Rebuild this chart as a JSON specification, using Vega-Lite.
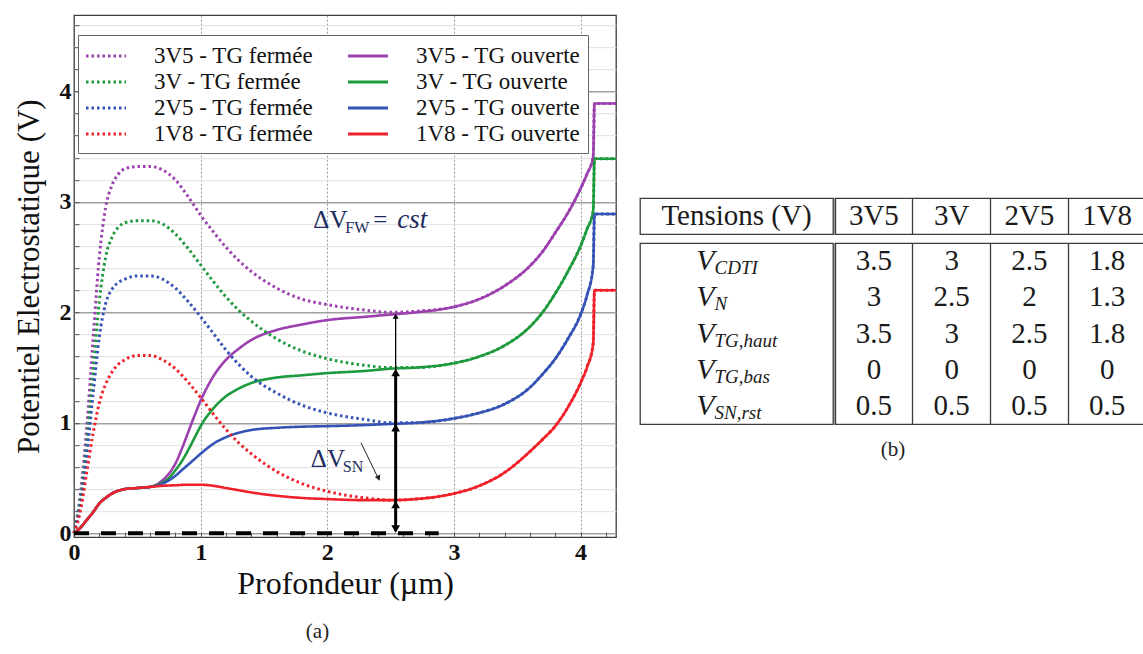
{
"$schema": "https://vega.github.io/schema/vega-lite/v6.json",
"padding": {"left": 12, "top": 12, "right": 0, "bottom": 0},
"background": "white",
"spacing": 16,
"center": true,
"resolve": {"scale": {"x": "independent", "y": "independent"}},
"datasets": {
"curves": [
{"s":"3V5 - TG fermée","x":0,"y":0},{"s":"3V5 - TG fermée","x":0.05,"y":0.35},{"s":"3V5 - TG fermée","x":0.1,"y":0.95},{"s":"3V5 - TG fermée","x":0.15,"y":1.75},{"s":"3V5 - TG fermée","x":0.2,"y":2.5},{"s":"3V5 - TG fermée","x":0.25,"y":2.95},{"s":"3V5 - TG fermée","x":0.3,"y":3.15},{"s":"3V5 - TG fermée","x":0.35,"y":3.25},{"s":"3V5 - TG fermée","x":0.4,"y":3.3},{"s":"3V5 - TG fermée","x":0.5,"y":3.32},{"s":"3V5 - TG fermée","x":0.6,"y":3.32},{"s":"3V5 - TG fermée","x":0.7,"y":3.29},{"s":"3V5 - TG fermée","x":0.8,"y":3.2},{"s":"3V5 - TG fermée","x":0.9,"y":3.05},{"s":"3V5 - TG fermée","x":1,"y":2.88},{"s":"3V5 - TG fermée","x":1.1,"y":2.73},{"s":"3V5 - TG fermée","x":1.2,"y":2.59},{"s":"3V5 - TG fermée","x":1.3,"y":2.47},{"s":"3V5 - TG fermée","x":1.4,"y":2.37},{"s":"3V5 - TG fermée","x":1.6,"y":2.22},{"s":"3V5 - TG fermée","x":1.8,"y":2.12},{"s":"3V5 - TG fermée","x":2,"y":2.07},{"s":"3V5 - TG fermée","x":2.3,"y":2.02},{"s":"3V5 - TG fermée","x":2.5,"y":2},{"s":"3V5 - TG fermée","x":2.7,"y":2.01},{"s":"3V5 - TG fermée","x":3,"y":2.05},{"s":"3V5 - TG fermée","x":3.2,"y":2.12},{"s":"3V5 - TG fermée","x":3.4,"y":2.24},{"s":"3V5 - TG fermée","x":3.6,"y":2.42},{"s":"3V5 - TG fermée","x":3.7,"y":2.55},{"s":"3V5 - TG fermée","x":3.8,"y":2.72},{"s":"3V5 - TG fermée","x":3.9,"y":2.9},{"s":"3V5 - TG fermée","x":4,"y":3.12},{"s":"3V5 - TG fermée","x":4.05,"y":3.25},{"s":"3V5 - TG fermée","x":4.1,"y":3.41},{"s":"3V5 - TG fermée","x":4.11,"y":3.89},{"s":"3V5 - TG fermée","x":4.28,"y":3.89},
{"s":"3V - TG fermée","x":0,"y":0},{"s":"3V - TG fermée","x":0.05,"y":0.3},{"s":"3V - TG fermée","x":0.1,"y":0.8},{"s":"3V - TG fermée","x":0.15,"y":1.45},{"s":"3V - TG fermée","x":0.2,"y":2.1},{"s":"3V - TG fermée","x":0.25,"y":2.5},{"s":"3V - TG fermée","x":0.3,"y":2.68},{"s":"3V - TG fermée","x":0.35,"y":2.77},{"s":"3V - TG fermée","x":0.4,"y":2.81},{"s":"3V - TG fermée","x":0.5,"y":2.83},{"s":"3V - TG fermée","x":0.6,"y":2.83},{"s":"3V - TG fermée","x":0.7,"y":2.8},{"s":"3V - TG fermée","x":0.8,"y":2.71},{"s":"3V - TG fermée","x":0.9,"y":2.58},{"s":"3V - TG fermée","x":1,"y":2.43},{"s":"3V - TG fermée","x":1.1,"y":2.28},{"s":"3V - TG fermée","x":1.2,"y":2.14},{"s":"3V - TG fermée","x":1.3,"y":2.02},{"s":"3V - TG fermée","x":1.4,"y":1.92},{"s":"3V - TG fermée","x":1.6,"y":1.76},{"s":"3V - TG fermée","x":1.8,"y":1.65},{"s":"3V - TG fermée","x":2,"y":1.58},{"s":"3V - TG fermée","x":2.3,"y":1.52},{"s":"3V - TG fermée","x":2.5,"y":1.5},{"s":"3V - TG fermée","x":2.7,"y":1.5},{"s":"3V - TG fermée","x":3,"y":1.54},{"s":"3V - TG fermée","x":3.2,"y":1.6},{"s":"3V - TG fermée","x":3.4,"y":1.7},{"s":"3V - TG fermée","x":3.6,"y":1.87},{"s":"3V - TG fermée","x":3.7,"y":2},{"s":"3V - TG fermée","x":3.8,"y":2.17},{"s":"3V - TG fermée","x":3.9,"y":2.37},{"s":"3V - TG fermée","x":4,"y":2.6},{"s":"3V - TG fermée","x":4.05,"y":2.75},{"s":"3V - TG fermée","x":4.1,"y":2.92},{"s":"3V - TG fermée","x":4.11,"y":3.39},{"s":"3V - TG fermée","x":4.28,"y":3.39},
{"s":"2V5 - TG fermée","x":0,"y":0},{"s":"2V5 - TG fermée","x":0.05,"y":0.25},{"s":"2V5 - TG fermée","x":0.1,"y":0.7},{"s":"2V5 - TG fermée","x":0.15,"y":1.25},{"s":"2V5 - TG fermée","x":0.2,"y":1.78},{"s":"2V5 - TG fermée","x":0.25,"y":2.08},{"s":"2V5 - TG fermée","x":0.3,"y":2.21},{"s":"2V5 - TG fermée","x":0.35,"y":2.27},{"s":"2V5 - TG fermée","x":0.4,"y":2.3},{"s":"2V5 - TG fermée","x":0.5,"y":2.33},{"s":"2V5 - TG fermée","x":0.6,"y":2.33},{"s":"2V5 - TG fermée","x":0.7,"y":2.3},{"s":"2V5 - TG fermée","x":0.8,"y":2.22},{"s":"2V5 - TG fermée","x":0.9,"y":2.1},{"s":"2V5 - TG fermée","x":1,"y":1.96},{"s":"2V5 - TG fermée","x":1.1,"y":1.81},{"s":"2V5 - TG fermée","x":1.2,"y":1.66},{"s":"2V5 - TG fermée","x":1.3,"y":1.53},{"s":"2V5 - TG fermée","x":1.4,"y":1.42},{"s":"2V5 - TG fermée","x":1.6,"y":1.27},{"s":"2V5 - TG fermée","x":1.8,"y":1.16},{"s":"2V5 - TG fermée","x":2,"y":1.09},{"s":"2V5 - TG fermée","x":2.3,"y":1.03},{"s":"2V5 - TG fermée","x":2.5,"y":1},{"s":"2V5 - TG fermée","x":2.7,"y":1},{"s":"2V5 - TG fermée","x":3,"y":1.04},{"s":"2V5 - TG fermée","x":3.2,"y":1.09},{"s":"2V5 - TG fermée","x":3.4,"y":1.17},{"s":"2V5 - TG fermée","x":3.6,"y":1.32},{"s":"2V5 - TG fermée","x":3.7,"y":1.44},{"s":"2V5 - TG fermée","x":3.8,"y":1.58},{"s":"2V5 - TG fermée","x":3.9,"y":1.76},{"s":"2V5 - TG fermée","x":4,"y":1.98},{"s":"2V5 - TG fermée","x":4.05,"y":2.15},{"s":"2V5 - TG fermée","x":4.1,"y":2.42},{"s":"2V5 - TG fermée","x":4.11,"y":2.89},{"s":"2V5 - TG fermée","x":4.28,"y":2.89},
{"s":"1V8 - TG fermée","x":0,"y":0},{"s":"1V8 - TG fermée","x":0.05,"y":0.2},{"s":"1V8 - TG fermée","x":0.1,"y":0.55},{"s":"1V8 - TG fermée","x":0.15,"y":0.9},{"s":"1V8 - TG fermée","x":0.2,"y":1.18},{"s":"1V8 - TG fermée","x":0.25,"y":1.35},{"s":"1V8 - TG fermée","x":0.3,"y":1.46},{"s":"1V8 - TG fermée","x":0.35,"y":1.53},{"s":"1V8 - TG fermée","x":0.4,"y":1.57},{"s":"1V8 - TG fermée","x":0.5,"y":1.61},{"s":"1V8 - TG fermée","x":0.6,"y":1.61},{"s":"1V8 - TG fermée","x":0.7,"y":1.57},{"s":"1V8 - TG fermée","x":0.8,"y":1.49},{"s":"1V8 - TG fermée","x":0.9,"y":1.37},{"s":"1V8 - TG fermée","x":1,"y":1.23},{"s":"1V8 - TG fermée","x":1.1,"y":1.08},{"s":"1V8 - TG fermée","x":1.2,"y":0.94},{"s":"1V8 - TG fermée","x":1.3,"y":0.82},{"s":"1V8 - TG fermée","x":1.4,"y":0.72},{"s":"1V8 - TG fermée","x":1.6,"y":0.56},{"s":"1V8 - TG fermée","x":1.8,"y":0.45},{"s":"1V8 - TG fermée","x":2,"y":0.38},{"s":"1V8 - TG fermée","x":2.3,"y":0.32},{"s":"1V8 - TG fermée","x":2.5,"y":0.3},{"s":"1V8 - TG fermée","x":2.7,"y":0.31},{"s":"1V8 - TG fermée","x":3,"y":0.36},{"s":"1V8 - TG fermée","x":3.2,"y":0.43},{"s":"1V8 - TG fermée","x":3.4,"y":0.55},{"s":"1V8 - TG fermée","x":3.6,"y":0.74},{"s":"1V8 - TG fermée","x":3.7,"y":0.85},{"s":"1V8 - TG fermée","x":3.8,"y":0.97},{"s":"1V8 - TG fermée","x":3.9,"y":1.14},{"s":"1V8 - TG fermée","x":4,"y":1.36},{"s":"1V8 - TG fermée","x":4.05,"y":1.5},{"s":"1V8 - TG fermée","x":4.1,"y":1.72},{"s":"1V8 - TG fermée","x":4.11,"y":2.2},{"s":"1V8 - TG fermée","x":4.28,"y":2.2},
{"s":"3V5 - TG ouverte","x":0,"y":0},{"s":"3V5 - TG ouverte","x":0.05,"y":0.05},{"s":"3V5 - TG ouverte","x":0.1,"y":0.12},{"s":"3V5 - TG ouverte","x":0.15,"y":0.19},{"s":"3V5 - TG ouverte","x":0.2,"y":0.27},{"s":"3V5 - TG ouverte","x":0.25,"y":0.32},{"s":"3V5 - TG ouverte","x":0.3,"y":0.36},{"s":"3V5 - TG ouverte","x":0.4,"y":0.4},{"s":"3V5 - TG ouverte","x":0.5,"y":0.41},{"s":"3V5 - TG ouverte","x":0.6,"y":0.42},{"s":"3V5 - TG ouverte","x":0.65,"y":0.44},{"s":"3V5 - TG ouverte","x":0.7,"y":0.48},{"s":"3V5 - TG ouverte","x":0.75,"y":0.54},{"s":"3V5 - TG ouverte","x":0.8,"y":0.63},{"s":"3V5 - TG ouverte","x":0.85,"y":0.76},{"s":"3V5 - TG ouverte","x":0.9,"y":0.91},{"s":"3V5 - TG ouverte","x":0.95,"y":1.06},{"s":"3V5 - TG ouverte","x":1,"y":1.2},{"s":"3V5 - TG ouverte","x":1.1,"y":1.42},{"s":"3V5 - TG ouverte","x":1.2,"y":1.57},{"s":"3V5 - TG ouverte","x":1.3,"y":1.67},{"s":"3V5 - TG ouverte","x":1.4,"y":1.75},{"s":"3V5 - TG ouverte","x":1.6,"y":1.84},{"s":"3V5 - TG ouverte","x":1.8,"y":1.89},{"s":"3V5 - TG ouverte","x":2,"y":1.93},{"s":"3V5 - TG ouverte","x":2.3,"y":1.96},{"s":"3V5 - TG ouverte","x":2.5,"y":1.98},{"s":"3V5 - TG ouverte","x":2.7,"y":2},{"s":"3V5 - TG ouverte","x":3,"y":2.05},{"s":"3V5 - TG ouverte","x":3.2,"y":2.12},{"s":"3V5 - TG ouverte","x":3.4,"y":2.24},{"s":"3V5 - TG ouverte","x":3.6,"y":2.42},{"s":"3V5 - TG ouverte","x":3.7,"y":2.55},{"s":"3V5 - TG ouverte","x":3.8,"y":2.72},{"s":"3V5 - TG ouverte","x":3.9,"y":2.9},{"s":"3V5 - TG ouverte","x":4,"y":3.12},{"s":"3V5 - TG ouverte","x":4.05,"y":3.25},{"s":"3V5 - TG ouverte","x":4.1,"y":3.41},{"s":"3V5 - TG ouverte","x":4.11,"y":3.89},{"s":"3V5 - TG ouverte","x":4.28,"y":3.89},
{"s":"3V - TG ouverte","x":0,"y":0},{"s":"3V - TG ouverte","x":0.05,"y":0.05},{"s":"3V - TG ouverte","x":0.1,"y":0.12},{"s":"3V - TG ouverte","x":0.15,"y":0.19},{"s":"3V - TG ouverte","x":0.2,"y":0.27},{"s":"3V - TG ouverte","x":0.25,"y":0.32},{"s":"3V - TG ouverte","x":0.3,"y":0.36},{"s":"3V - TG ouverte","x":0.4,"y":0.4},{"s":"3V - TG ouverte","x":0.5,"y":0.41},{"s":"3V - TG ouverte","x":0.6,"y":0.42},{"s":"3V - TG ouverte","x":0.65,"y":0.435},{"s":"3V - TG ouverte","x":0.7,"y":0.46},{"s":"3V - TG ouverte","x":0.75,"y":0.5},{"s":"3V - TG ouverte","x":0.8,"y":0.57},{"s":"3V - TG ouverte","x":0.85,"y":0.65},{"s":"3V - TG ouverte","x":0.9,"y":0.75},{"s":"3V - TG ouverte","x":0.95,"y":0.86},{"s":"3V - TG ouverte","x":1,"y":0.97},{"s":"3V - TG ouverte","x":1.1,"y":1.13},{"s":"3V - TG ouverte","x":1.2,"y":1.24},{"s":"3V - TG ouverte","x":1.3,"y":1.31},{"s":"3V - TG ouverte","x":1.4,"y":1.36},{"s":"3V - TG ouverte","x":1.6,"y":1.41},{"s":"3V - TG ouverte","x":1.8,"y":1.43},{"s":"3V - TG ouverte","x":2,"y":1.45},{"s":"3V - TG ouverte","x":2.3,"y":1.47},{"s":"3V - TG ouverte","x":2.5,"y":1.49},{"s":"3V - TG ouverte","x":2.7,"y":1.5},{"s":"3V - TG ouverte","x":3,"y":1.54},{"s":"3V - TG ouverte","x":3.2,"y":1.6},{"s":"3V - TG ouverte","x":3.4,"y":1.7},{"s":"3V - TG ouverte","x":3.6,"y":1.87},{"s":"3V - TG ouverte","x":3.7,"y":2},{"s":"3V - TG ouverte","x":3.8,"y":2.17},{"s":"3V - TG ouverte","x":3.9,"y":2.37},{"s":"3V - TG ouverte","x":4,"y":2.6},{"s":"3V - TG ouverte","x":4.05,"y":2.75},{"s":"3V - TG ouverte","x":4.1,"y":2.92},{"s":"3V - TG ouverte","x":4.11,"y":3.39},{"s":"3V - TG ouverte","x":4.28,"y":3.39},
{"s":"2V5 - TG ouverte","x":0,"y":0},{"s":"2V5 - TG ouverte","x":0.05,"y":0.05},{"s":"2V5 - TG ouverte","x":0.1,"y":0.12},{"s":"2V5 - TG ouverte","x":0.15,"y":0.19},{"s":"2V5 - TG ouverte","x":0.2,"y":0.27},{"s":"2V5 - TG ouverte","x":0.25,"y":0.32},{"s":"2V5 - TG ouverte","x":0.3,"y":0.36},{"s":"2V5 - TG ouverte","x":0.4,"y":0.4},{"s":"2V5 - TG ouverte","x":0.5,"y":0.41},{"s":"2V5 - TG ouverte","x":0.6,"y":0.42},{"s":"2V5 - TG ouverte","x":0.65,"y":0.43},{"s":"2V5 - TG ouverte","x":0.7,"y":0.45},{"s":"2V5 - TG ouverte","x":0.75,"y":0.48},{"s":"2V5 - TG ouverte","x":0.8,"y":0.52},{"s":"2V5 - TG ouverte","x":0.85,"y":0.57},{"s":"2V5 - TG ouverte","x":0.9,"y":0.62},{"s":"2V5 - TG ouverte","x":0.95,"y":0.67},{"s":"2V5 - TG ouverte","x":1,"y":0.72},{"s":"2V5 - TG ouverte","x":1.1,"y":0.81},{"s":"2V5 - TG ouverte","x":1.2,"y":0.87},{"s":"2V5 - TG ouverte","x":1.3,"y":0.91},{"s":"2V5 - TG ouverte","x":1.4,"y":0.935},{"s":"2V5 - TG ouverte","x":1.6,"y":0.955},{"s":"2V5 - TG ouverte","x":1.8,"y":0.965},{"s":"2V5 - TG ouverte","x":2,"y":0.97},{"s":"2V5 - TG ouverte","x":2.3,"y":0.98},{"s":"2V5 - TG ouverte","x":2.5,"y":0.99},{"s":"2V5 - TG ouverte","x":2.7,"y":1},{"s":"2V5 - TG ouverte","x":3,"y":1.04},{"s":"2V5 - TG ouverte","x":3.2,"y":1.09},{"s":"2V5 - TG ouverte","x":3.4,"y":1.17},{"s":"2V5 - TG ouverte","x":3.6,"y":1.32},{"s":"2V5 - TG ouverte","x":3.7,"y":1.44},{"s":"2V5 - TG ouverte","x":3.8,"y":1.58},{"s":"2V5 - TG ouverte","x":3.9,"y":1.76},{"s":"2V5 - TG ouverte","x":4,"y":1.98},{"s":"2V5 - TG ouverte","x":4.05,"y":2.15},{"s":"2V5 - TG ouverte","x":4.1,"y":2.42},{"s":"2V5 - TG ouverte","x":4.11,"y":2.89},{"s":"2V5 - TG ouverte","x":4.28,"y":2.89},
{"s":"1V8 - TG ouverte","x":0,"y":0},{"s":"1V8 - TG ouverte","x":0.05,"y":0.05},{"s":"1V8 - TG ouverte","x":0.1,"y":0.12},{"s":"1V8 - TG ouverte","x":0.15,"y":0.19},{"s":"1V8 - TG ouverte","x":0.2,"y":0.27},{"s":"1V8 - TG ouverte","x":0.25,"y":0.32},{"s":"1V8 - TG ouverte","x":0.3,"y":0.36},{"s":"1V8 - TG ouverte","x":0.4,"y":0.4},{"s":"1V8 - TG ouverte","x":0.5,"y":0.41},{"s":"1V8 - TG ouverte","x":0.6,"y":0.42},{"s":"1V8 - TG ouverte","x":0.7,"y":0.43},{"s":"1V8 - TG ouverte","x":0.8,"y":0.435},{"s":"1V8 - TG ouverte","x":0.9,"y":0.44},{"s":"1V8 - TG ouverte","x":1,"y":0.44},{"s":"1V8 - TG ouverte","x":1.1,"y":0.43},{"s":"1V8 - TG ouverte","x":1.2,"y":0.41},{"s":"1V8 - TG ouverte","x":1.3,"y":0.39},{"s":"1V8 - TG ouverte","x":1.4,"y":0.37},{"s":"1V8 - TG ouverte","x":1.6,"y":0.34},{"s":"1V8 - TG ouverte","x":1.8,"y":0.32},{"s":"1V8 - TG ouverte","x":2,"y":0.31},{"s":"1V8 - TG ouverte","x":2.3,"y":0.3},{"s":"1V8 - TG ouverte","x":2.5,"y":0.3},{"s":"1V8 - TG ouverte","x":2.7,"y":0.31},{"s":"1V8 - TG ouverte","x":3,"y":0.36},{"s":"1V8 - TG ouverte","x":3.2,"y":0.43},{"s":"1V8 - TG ouverte","x":3.4,"y":0.55},{"s":"1V8 - TG ouverte","x":3.6,"y":0.74},{"s":"1V8 - TG ouverte","x":3.7,"y":0.85},{"s":"1V8 - TG ouverte","x":3.8,"y":0.97},{"s":"1V8 - TG ouverte","x":3.9,"y":1.14},{"s":"1V8 - TG ouverte","x":4,"y":1.36},{"s":"1V8 - TG ouverte","x":4.05,"y":1.5},{"s":"1V8 - TG ouverte","x":4.1,"y":1.72},{"s":"1V8 - TG ouverte","x":4.11,"y":2.2},{"s":"1V8 - TG ouverte","x":4.28,"y":2.2}
]
},
"hconcat": [
{
"width": 542,
"height": 522,
"title": {"text": "(a)", "orient": "bottom", "frame": "bounds", "anchor": "middle", "offset": 22, "font": "Liberation Serif", "fontSize": 21, "fontWeight": "normal", "color": "#222"},
"layer": [
{
"data": {"name": "curves"},
"encoding": {
"x": {"field": "x", "type": "quantitative", "scale": {"domain": [0, 4.28], "nice": false, "zero": false},
"axis": {"title": "Profondeur (µm)", "values": [0,0.2,0.4,0.6,0.8,1,1.2,1.4,1.6,1.8,2,2.2,2.4,2.6,2.8,3,3.2,3.4,3.6,3.8,4,4.2], "tickCount": 100,
"labelExpr": "datum.value % 1 === 0 ? format(datum.value, 'd') : ''", "grid": true, "gridColor": "#9a9a9a", "gridDash": [2,2],
"gridOpacity": {"condition": {"test": "datum.value % 1 === 0 && datum.value > 0", "value": 1}, "value": 0},
"domain": false, "tickSize": -5, "tickColor": "#555", "labelFont": "Liberation Serif", "labelFontWeight": "bold", "labelFontSize": 24,
"labelPadding": 8, "labelOverlap": false, "labelFlush": false, "labelColor": "#111",
"titleFont": "Liberation Serif", "titleFontSize": 32, "titleFontWeight": "normal", "titlePadding": 4, "titleColor": "#111"}},
"y": {"field": "y", "type": "quantitative", "scale": {"domain": [-0.035, 4.69], "nice": false, "zero": false},
"axis": {"title": "Potentiel Electrostatique (V)", "values": [0,0.2,0.4,0.6,0.8,1,1.2,1.4,1.6,1.8,2,2.2,2.4,2.6,2.8,3,3.2,3.4,3.6,3.8,4,4.2,4.4,4.6], "tickCount": 100,
"labelExpr": "datum.value % 1 === 0 ? format(datum.value, 'd') : ''", "grid": true,
"gridColor": {"condition": {"test": "datum.value % 1 === 0", "value": "#a0a0a0"}, "value": "#e0e0e0"},
"gridWidth": {"condition": {"test": "datum.value % 1 === 0", "value": 1.5}, "value": 1},
"domain": false, "tickSize": -5, "tickColor": "#555", "labelFont": "Liberation Serif", "labelFontWeight": "bold", "labelFontSize": 24,
"labelPadding": 8, "labelOverlap": false, "labelFlush": false, "labelColor": "#111",
"titleFont": "Liberation Serif", "titleFontSize": 31, "titleFontWeight": "normal", "titlePadding": 14, "titleColor": "#111"}},
"color": {"field": "s", "type": "nominal",
"scale": {"domain": ["3V5 - TG fermée","3V - TG fermée","2V5 - TG fermée","1V8 - TG fermée","3V5 - TG ouverte","3V - TG ouverte","2V5 - TG ouverte","1V8 - TG ouverte"],
"range": ["#9c40b0","#1d9a3d","#3553b5","#f0212a","#9c40b0","#1d9a3d","#3553b5","#f0212a"]},
"legend": {"orient": "none", "legendX": 4, "legendY": 20, "columns": 2, "title": null, "symbolType": "M-1.6,0H1.6", "symbolSize": 625, "symbolStrokeWidth": 3, "labelFont": "Liberation Serif", "labelFontSize": 23, "labelOffset": 34, "columnPadding": 28, "rowPadding": 0, "padding": 7, "symbolOffset": 7, "strokeColor": "#666", "fillColor": "white", "labelLimit": 400, "labelColor": "#111"}},
"strokeDash": {"field": "s", "type": "nominal",
"scale": {"domain": ["3V5 - TG fermée","3V - TG fermée","2V5 - TG fermée","1V8 - TG fermée","3V5 - TG ouverte","3V - TG ouverte","2V5 - TG ouverte","1V8 - TG ouverte"],
"range": [[2.5,3],[2.5,3],[2.5,3],[2.5,3],[1,0],[1,0],[1,0],[1,0]]},
"legend": {"orient": "none", "legendX": 4, "legendY": 20, "columns": 2, "title": null, "symbolType": "M-1.6,0H1.6", "symbolSize": 625, "symbolStrokeWidth": 3, "labelFont": "Liberation Serif", "labelFontSize": 23, "labelOffset": 34, "columnPadding": 28, "rowPadding": 0, "padding": 7, "symbolOffset": 7, "strokeColor": "#666", "fillColor": "white", "labelLimit": 400, "labelColor": "#111"}}
},
"layer": [
{"transform": [{"filter": "indexof(datum.s, 'ouverte') >= 0"}], "mark": {"type": "line", "interpolate": "monotone", "strokeWidth": 2.6}},
{"transform": [{"filter": "indexof(datum.s, 'fermée') >= 0"}], "mark": {"type": "line", "interpolate": "monotone", "strokeWidth": 3, "strokeCap": "butt"}}
]
},
{
"data": {"values": [{"x": 0, "x2": 2.88, "y": 0}]},
"mark": {"type": "rule", "color": "#000", "strokeWidth": 4, "strokeDash": [15, 12]},
"encoding": {"x": {"field": "x", "type": "quantitative"}, "x2": {"field": "x2"}, "y": {"field": "y", "type": "quantitative"}}
},
{
"data": {"values": [{"x": 2.54, "y": 0.02, "y2": 1.45}]},
"mark": {"type": "rule", "color": "#000", "strokeWidth": 3},
"encoding": {"x": {"field": "x", "type": "quantitative"}, "y": {"field": "y", "type": "quantitative"}, "y2": {"field": "y2"}}
},
{
"data": {"values": [{"x": 2.54, "y": 1.45, "y2": 1.97}]},
"mark": {"type": "rule", "color": "#000", "strokeWidth": 1.3},
"encoding": {"x": {"field": "x", "type": "quantitative"}, "y": {"field": "y", "type": "quantitative"}, "y2": {"field": "y2"}}
},
{
"data": {"values": [{"x": 2.54, "y": 1.455}, {"x": 2.54, "y": 0.955}, {"x": 2.54, "y": 0.26}]},
"mark": {"type": "point", "shape": "triangle-up", "filled": true, "color": "#000", "size": 75, "opacity": 1},
"encoding": {"x": {"field": "x", "type": "quantitative"}, "y": {"field": "y", "type": "quantitative"}}
},
{
"data": {"values": [{"x": 2.54, "y": 1.965}]},
"mark": {"type": "point", "shape": "triangle-up", "filled": true, "color": "#000", "size": 35, "opacity": 1},
"encoding": {"x": {"field": "x", "type": "quantitative"}, "y": {"field": "y", "type": "quantitative"}}
},
{
"data": {"values": [{"x": 2.54, "y": 0.04}]},
"mark": {"type": "point", "shape": "triangle-down", "filled": true, "color": "#000", "size": 75, "opacity": 1},
"encoding": {"x": {"field": "x", "type": "quantitative"}, "y": {"field": "y", "type": "quantitative"}}
},
{
"data": {"values": [{"x": 2.266, "y": 0.82, "x2": 2.41, "y2": 0.48}]},
"mark": {"type": "rule", "color": "#222", "strokeWidth": 1},
"encoding": {"x": {"field": "x", "type": "quantitative"}, "y": {"field": "y", "type": "quantitative"}, "x2": {"field": "x2"}, "y2": {"field": "y2"}}
},
{
"data": {"values": [{"x": 2.405, "y": 0.5}]},
"mark": {"type": "point", "shape": "triangle-up", "filled": true, "color": "#222", "size": 35, "angle": 156, "opacity": 1},
"encoding": {"x": {"field": "x", "type": "quantitative"}, "y": {"field": "y", "type": "quantitative"}}
},
{
"data": {"values": [{"x": 1.89, "y": 2.76, "a": "ΔV", "b": "FW"}, {"x": 1.87, "y": 0.6, "a": "ΔV", "b": "SN"}]},
"encoding": {"x": {"field": "x", "type": "quantitative"}, "y": {"field": "y", "type": "quantitative"}},
"layer": [
{"mark": {"type": "text", "align": "left", "baseline": "alphabetic", "font": "Liberation Serif", "fontSize": 25, "color": "#1e2b5e"}, "encoding": {"text": {"field": "a"}}},
{"mark": {"type": "text", "align": "left", "baseline": "alphabetic", "font": "Liberation Serif", "fontSize": 16, "color": "#1e2b5e", "dx": 32, "dy": 5}, "encoding": {"text": {"field": "b"}}}
]
},
{
"data": {"values": [{"x": 1.89, "y": 2.76, "c": "=", "d": "cst"}]},
"encoding": {"x": {"field": "x", "type": "quantitative"}, "y": {"field": "y", "type": "quantitative"}},
"layer": [
{"mark": {"type": "text", "align": "left", "baseline": "alphabetic", "font": "Liberation Serif", "fontSize": 25, "color": "#1e2b5e", "dx": 60}, "encoding": {"text": {"field": "c"}}},
{"mark": {"type": "text", "align": "left", "baseline": "alphabetic", "font": "Liberation Serif", "fontSize": 27, "fontStyle": "italic", "color": "#1e2b5e", "dx": 84}, "encoding": {"text": {"field": "d"}}}
]
}
]
},
{
"title": {"text": "(b)", "orient": "bottom", "offset": 14, "font": "Liberation Serif", "fontSize": 21, "fontWeight": "normal", "anchor": "middle", "frame": "bounds", "color": "#222"},
"spacing": 7,
"resolve": {"scale": {"x": "independent", "y": "independent"}},
"vconcat": [
{
"spacing": 0,
"resolve": {"scale": {"x": "independent", "y": "independent"}},
"hconcat": [
{"width": 193, "height": 36, "data": {"values": [{"h": "Tensions (V)"}]},
"mark": {"type": "text", "font": "Liberation Serif", "fontSize": 29, "color": "#1a1a1a"},
"encoding": {"x": {"field": "h", "type": "nominal", "scale": {"type": "band", "paddingInner": 0, "paddingOuter": 0}, "axis": null}, "text": {"field": "h"}}},
{"width": 311, "height": 36, "data": {"values": [{"c": "3V5"}, {"c": "3V"}, {"c": "2V5"}, {"c": "1V8"}]},
"mark": {"type": "text", "font": "Liberation Serif", "fontSize": 29, "color": "#1a1a1a"},
"encoding": {
"x": {"field": "c", "type": "nominal", "sort": null, "scale": {"type": "band", "paddingInner": 0, "paddingOuter": 0},
"axis": {"grid": true, "bandPosition": 0, "gridColor": "#3c3c3c", "gridWidth": 1.3, "labels": false, "ticks": false, "domain": false, "title": null}},
"text": {"field": "c"}}}
]
},
{
"spacing": 0,
"resolve": {"scale": {"x": "independent", "y": "independent"}},
"hconcat": [
{"width": 193, "height": 181,
"data": {"values": [{"r": "CDTI", "v0": "V"}, {"r": "N", "v0": "V"}, {"r": "TG,haut", "v0": "V"}, {"r": "TG,bas", "v0": "V"}, {"r": "SN,rst", "v0": "V"}]},
"encoding": {"y": {"field": "r", "type": "nominal", "sort": ["CDTI", "N", "TG,haut", "TG,bas", "SN,rst"], "scale": {"type": "band", "paddingInner": 0, "paddingOuter": 0}, "axis": null}},
"layer": [
{"mark": {"type": "text", "font": "Liberation Serif", "fontStyle": "italic", "fontSize": 30, "align": "right", "baseline": "alphabetic", "dx": -22, "dy": 9, "color": "#1a1a1a"}, "encoding": {"text": {"field": "v0"}}},
{"mark": {"type": "text", "font": "Liberation Serif", "fontStyle": "italic", "fontSize": 19, "align": "left", "baseline": "alphabetic", "dx": -22, "dy": 13, "color": "#1a1a1a"}, "encoding": {"text": {"field": "r"}}}
]},
{"width": 311, "height": 181,
"data": {"values": [
{"r": "CDTI", "c": "3V5", "v": "3.5"}, {"r": "CDTI", "c": "3V", "v": "3"}, {"r": "CDTI", "c": "2V5", "v": "2.5"}, {"r": "CDTI", "c": "1V8", "v": "1.8"},
{"r": "N", "c": "3V5", "v": "3"}, {"r": "N", "c": "3V", "v": "2.5"}, {"r": "N", "c": "2V5", "v": "2"}, {"r": "N", "c": "1V8", "v": "1.3"},
{"r": "TG,haut", "c": "3V5", "v": "3.5"}, {"r": "TG,haut", "c": "3V", "v": "3"}, {"r": "TG,haut", "c": "2V5", "v": "2.5"}, {"r": "TG,haut", "c": "1V8", "v": "1.8"},
{"r": "TG,bas", "c": "3V5", "v": "0"}, {"r": "TG,bas", "c": "3V", "v": "0"}, {"r": "TG,bas", "c": "2V5", "v": "0"}, {"r": "TG,bas", "c": "1V8", "v": "0"},
{"r": "SN,rst", "c": "3V5", "v": "0.5"}, {"r": "SN,rst", "c": "3V", "v": "0.5"}, {"r": "SN,rst", "c": "2V5", "v": "0.5"}, {"r": "SN,rst", "c": "1V8", "v": "0.5"}
]},
"mark": {"type": "text", "font": "Liberation Serif", "fontSize": 29, "color": "#1a1a1a"},
"encoding": {
"x": {"field": "c", "type": "nominal", "sort": ["3V5", "3V", "2V5", "1V8"], "scale": {"type": "band", "paddingInner": 0, "paddingOuter": 0},
"axis": {"grid": true, "bandPosition": 0, "gridColor": "#3c3c3c", "gridWidth": 1.3, "labels": false, "ticks": false, "domain": false, "title": null}},
"y": {"field": "r", "type": "nominal", "sort": ["CDTI", "N", "TG,haut", "TG,bas", "SN,rst"], "scale": {"type": "band", "paddingInner": 0, "paddingOuter": 0}, "axis": null},
"text": {"field": "v"}}}
]
}
]
}
],
"config": {"view": {"stroke": "#3c3c3c", "strokeWidth": 1.3}, "font": "Liberation Serif"}
}
